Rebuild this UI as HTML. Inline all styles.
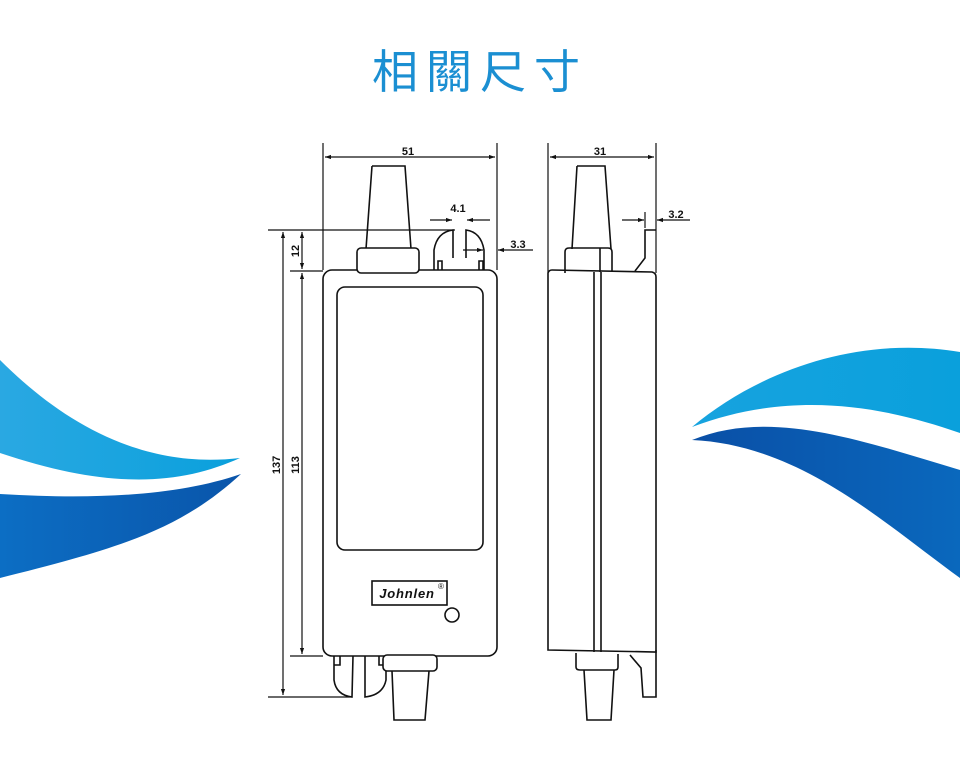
<!DOCTYPE html>
<html><head><meta charset="utf-8"><style>
html,body{margin:0;padding:0;background:#fff;width:960px;height:768px;overflow:hidden}
svg{display:block}
</style></head><body>
<svg width="960" height="768" viewBox="0 0 960 768" xmlns="http://www.w3.org/2000/svg">
<defs>
<linearGradient id="lb" x1="0" y1="0" x2="1" y2="0"><stop offset="0" stop-color="#2aa8e2"/><stop offset="1" stop-color="#0aa0dc"/></linearGradient>
<linearGradient id="db" x1="0" y1="0" x2="1" y2="0"><stop offset="0" stop-color="#0c6ec4"/><stop offset="1" stop-color="#0a55aa"/></linearGradient>
<linearGradient id="lb2" x1="0" y1="0" x2="1" y2="0"><stop offset="0" stop-color="#17a3df"/><stop offset="1" stop-color="#0aa0dc"/></linearGradient>
<linearGradient id="db2" x1="0" y1="0" x2="1" y2="0"><stop offset="0" stop-color="#0a4fa6"/><stop offset="1" stop-color="#0a68bd"/></linearGradient>
<marker id="a" viewBox="0 0 10 10" refX="10" refY="5" markerWidth="7" markerHeight="5" orient="auto-start-reverse"><path d="M0,1.5 L10,5 L0,8.5z" fill="#111"/></marker>
</defs>
<path d="M0,360 C60,420 140,470 240,458 C180,485 110,490 0,453 Z" fill="url(#lb)"/>
<path d="M0,494 C100,500 180,495 241,474 C180,530 120,548 0,578 Z" fill="url(#db)"/>
<path d="M692,427 C760,370 860,335 960,352 L960,433 C880,405 790,390 692,427 Z" fill="url(#lb2)"/>
<path d="M692,440 C770,408 860,440 960,470 L960,578 C880,520 800,445 692,440 Z" fill="url(#db2)"/>
<text x="480" y="88" text-anchor="middle" font-family="'Liberation Sans','Noto Sans CJK TC',sans-serif" font-size="46" font-weight="normal" letter-spacing="8" fill="#1b8fd2">相關尺寸</text>
<g fill="none" stroke="#111" stroke-width="1.6">
<rect x="323" y="270" width="174" height="386" rx="9"/>
<rect x="337" y="287" width="146" height="263" rx="8"/>
<path d="M372,166 L405,166 L411,249 M372,166 L366,249"/>
<rect x="357" y="248" width="62" height="25" rx="4" fill="#fff"/>
<path d="M453,258 L453,230 Q437,232 434,250 L434,270 M466,258 L466,230 Q481,232 484,250 L484,270"/>
<path d="M438,270 L438,261 L442,261 L442,270 M479,270 L479,261 L483,261 L483,270"/>
<path d="M334,656 L334,680 Q336,695 352,697 L353,656 M365,656 L365,697 Q383,695 386,680 L386,656"/>
<path d="M334,665 L340,665 L340,656 M379,656 L379,665 L385,665"/>
<rect x="383" y="655" width="54" height="16" rx="4" fill="#fff"/>
<path d="M392,671 L394,720 L425,720 L429,671"/>
<rect x="372" y="581" width="75" height="24"/>
<circle cx="452" cy="615" r="7"/>
<g stroke-width="1.2">
<path d="M323,143 L323,270 M497,143 L497,270"/>
<path d="M325,157 L495,157" marker-start="url(#a)" marker-end="url(#a)"/>
<path d="M430,220 L452,220" marker-end="url(#a)"/><path d="M490,220 L467,220" marker-end="url(#a)"/>
<path d="M463,250 L483,250" marker-end="url(#a)"/><path d="M533,250 L498,250" marker-end="url(#a)"/>
<path d="M268,230 L455,230 M290,271 L323,271 M268,697 L352,697 M290,656 L323,656"/>
<path d="M283,232 L283,695" marker-start="url(#a)" marker-end="url(#a)"/>
<path d="M302,232 L302,269" marker-start="url(#a)" marker-end="url(#a)"/>
<path d="M302,273 L302,654" marker-start="url(#a)" marker-end="url(#a)"/>
<path d="M548,143 L548,273 M656,143 L656,273"/>
<path d="M550,157 L654,157" marker-start="url(#a)" marker-end="url(#a)"/>
<path d="M622,220 L644,220" marker-end="url(#a)"/><path d="M690,220 L657,220" marker-end="url(#a)"/>
<path d="M645,212 L645,228"/>
</g>
<path d="M548,273 Q549,270 552,270 L652,272 Q656,273 656,277 L656,652 L548,650 Z"/>
<path d="M594,272 L594,652 M601,272 L601,652"/>
<path d="M577,166 L605,166 L611,249 M577,166 L572,249"/>
<path d="M565,273 L565,252 Q565,248 569,248 L608,248 Q612,248 612,252 L612,271"/>
<path d="M600,248 L600,272"/>
<path d="M656,230 L645,230 L645,258 L635,271"/>
<path d="M576,653 L576,667 Q576,670 580,670 L615,670 Q618,670 618,667 L618,654"/>
<path d="M584,670 L587,720 L611,720 L614,670"/>
<path d="M630,655 L641,668 L643,697 L656,697 L656,650"/>
</g>
<g font-family="'Liberation Sans',sans-serif" font-weight="bold" font-size="11" fill="#111" text-anchor="middle">
<text x="408" y="155">51</text>
<text x="458" y="212">4.1</text>
<text x="518" y="248">3.3</text>
<text x="600" y="155">31</text>
<text x="676" y="218">3.2</text>
<text transform="translate(299,251) rotate(-90)">12</text>
<text transform="translate(299,465) rotate(-90)">113</text>
<text transform="translate(280,465) rotate(-90)">137</text>
<text x="407" y="598" font-style="italic" font-size="13" font-weight="900" letter-spacing="0.8">Johnlen</text>
<text x="441" y="589" font-size="8" font-weight="normal">®</text>
</g>
</svg>
</body></html>
